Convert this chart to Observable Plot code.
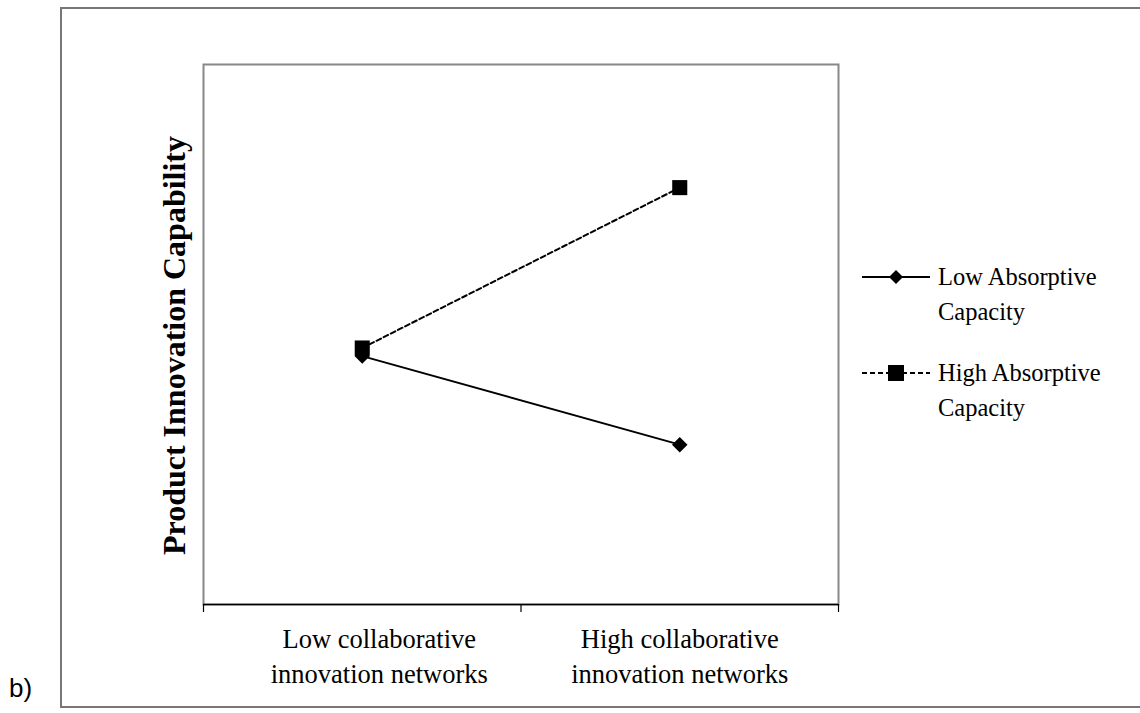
<!DOCTYPE html>
<html>
<head>
<meta charset="utf-8">
<script src="https://cdn.jsdelivr.net/npm/d3@7"></script>
<script src="https://cdn.jsdelivr.net/npm/@observablehq/plot@0.6"></script>
<style>
  html, body { margin: 0; padding: 0; background: #fff; }
  #wrap { position: relative; width: 1140px; height: 713px; overflow: hidden; font-family: "Liberation Serif", serif; }
  #outer { position: absolute; left: 60px; top: 7px; width: 1100px; height: 701px; border: 2px solid #777; box-sizing: border-box; }
  #chart { position: absolute; left: 0; top: 0; }
  #legend { position: absolute; left: 860px; top: 259px; font-size: 24.5px; color: #000; line-height: 35px; }
  .item { display: flex; align-items: flex-start; margin-bottom: 26px; }
  .item svg { margin-top: 4px; margin-right: 6px; }
  #tag { position: absolute; left: 9px; top: 673px; font-family: "Liberation Sans", Arial, sans-serif; font-size: 26px; color: #000; }
</style>
</head>
<body>
<div id="wrap">
  <div id="outer"></div>
  <div id="chart"></div>
  <div id="legend"></div>
  <div id="tag">b)</div>
</div>
<script>
const categories = ["Low collaborative\ninnovation networks", "High collaborative\ninnovation networks"];
const seriesNames = ["Low Absorptive Capacity", "High Absorptive Capacity"];
const lowAbsorptive = [4.6, 2.96];
const highAbsorptive = [4.75, 7.72];
const yLabel = "Product Innovation Capability";

const rows = [];
categories.forEach((c, i) => {
  rows.push({series: seriesNames[0], xi: i + 0.5, y: lowAbsorptive[i]});
  rows.push({series: seriesNames[1], xi: i + 0.5, y: highAbsorptive[i]});
});
const lowRows = rows.filter(d => d.series === seriesNames[0]);
const highRows = rows.filter(d => d.series === seriesNames[1]);
const edges = d3.range(categories.length + 1);
const catRows = categories.map((c, i) => ({label: c, xi: i + 0.5}));

const labelStyle = {x: "xi", text: "label", frameAnchor: "bottom", lineAnchor: "middle", dy: 50, lineHeight: 1.3, fontSize: 26.5, fill: "#000"};

const plot = Plot.plot({
  width: 1140,
  height: 713,
  marginLeft: 203,
  marginRight: 302,
  marginTop: 64,
  marginBottom: 109,
  style: {background: "transparent", fontFamily: "Liberation Serif, serif"},
  x: {domain: [0, categories.length], axis: null},
  y: {domain: [0, 10], axis: null},
  marks: [
    Plot.frame({stroke: "#888", strokeWidth: 2}),
    Plot.ruleY([0], {stroke: "#000", strokeWidth: 1.5}),
    Plot.axisX({ticks: edges, tickSize: 8, tickFormat: () => "", label: null, stroke: "#000", strokeWidth: 1.2}),
    Plot.line(lowRows, {x: "xi", y: "y", stroke: "#000", strokeWidth: 2}),
    Plot.line(highRows, {x: "xi", y: "y", stroke: "#000", strokeWidth: 2, strokeDasharray: "5,3"}),
    Plot.dot(lowRows, {x: "xi", y: "y", symbol: "diamond2", r: 7, fill: "#000", stroke: "none"}),
    Plot.dot(highRows, {x: "xi", y: "y", symbol: "square", r: 8.5, fill: "#000", stroke: "none"}),
    Plot.text(catRows.slice(0, 1), {...labelStyle, dx: 17}),
    Plot.text(catRows.slice(1), labelStyle),
    Plot.text([yLabel], {frameAnchor: "left", textAnchor: "middle", lineAnchor: "middle", rotate: -90, dx: -29, dy: 11, fontSize: 32, fontWeight: "bold", fill: "#000"})
  ]
});
document.getElementById("chart").appendChild(plot);

// legend
const legend = document.getElementById("legend");
const lines = [["Low Absorptive", "Capacity"], ["High Absorptive", "Capacity"]];
seriesNames.forEach((name, i) => {
  const item = document.createElement("div");
  item.className = "item";
  const dash = i === 1 ? 'stroke-dasharray="5,3"' : '';
  const marker = i === 0
    ? '<path d="M36,7 L43,14 L36,21 L29,14 Z" fill="#000"/>'
    : '<rect x="28" y="6" width="16" height="16" fill="#000"/>';
  item.innerHTML = `<svg width="72" height="28"><line x1="2" x2="70" y1="14" y2="14" stroke="#000" stroke-width="2" ${dash}/>${marker}</svg><div>${lines[i][0]}<br>${lines[i][1]}</div>`;
  legend.appendChild(item);
});
</script>
</body>
</html>
